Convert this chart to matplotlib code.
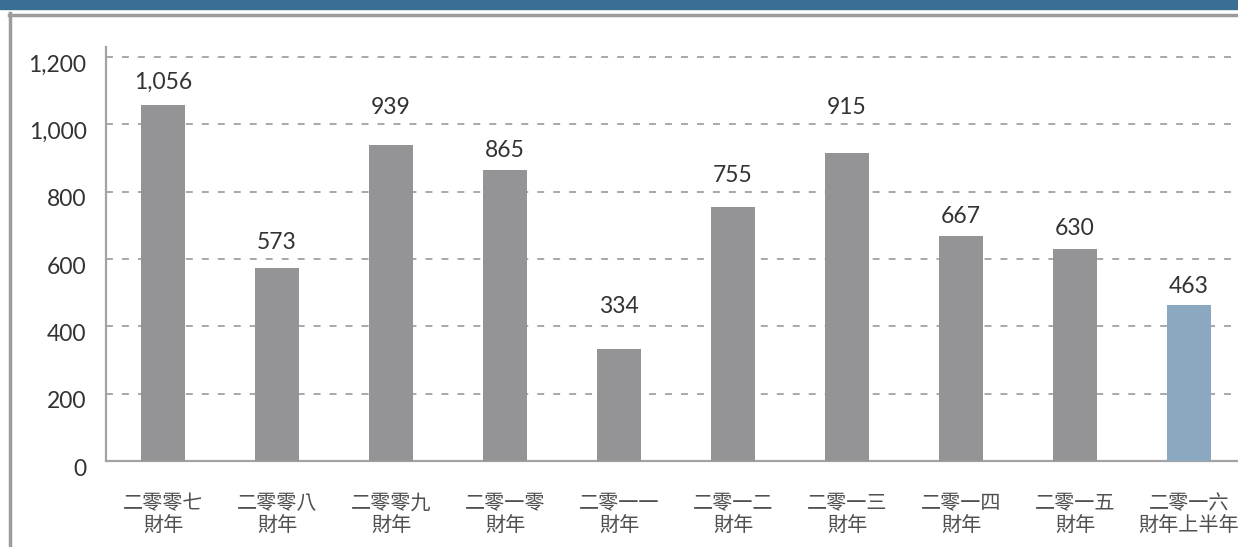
import matplotlib.pyplot as plt
from matplotlib.patches import Rectangle
from matplotlib.lines import Line2D
import matplotlib.transforms as mtransforms

years = ['二零零七\n財年', '二零零八\n財年', '二零零九\n財年', '二零一零\n財年', '二零一一\n財年',
         '二零一二\n財年', '二零一三\n財年', '二零一四\n財年', '二零一五\n財年', '二零一六\n財年上半年']
values = [1056, 573, 939, 865, 334, 755, 915, 667, 630, 463]
yticks = [0, 200, 400, 600, 800, 1000, 1200]

# gap between bar top and its label, in pixels (labels dodge the gridlines)
label_gap = [13, 15, 27, 9, 32, 21, 35, 9, 10, 8]

W, H = 1238, 547
fig = plt.figure(figsize=(W / 100, H / 100), dpi=100)
ax = fig.add_axes([106 / W, 1 - 461 / H, 1 - 106 / W, (461 - 47) / H])

num_font = ['Lato', 'DejaVu Sans']
cjk_font = ['Noto Sans CJK TC', 'DejaVu Sans']

colors = ['#949497'] * (len(values) - 1) + ['#8ba8c1']
x = list(range(len(values)))
ax.bar(x, values, width=0.386, color=colors, zorder=3)

ax.set_xlim(-0.5, (W - 163) / 114)
ax.set_ylim(0, (461 - 47) / ((461 - 57) / 1200))

ax.set_yticks(yticks)
ax.set_yticklabels([f'{v:,}' for v in yticks], family=num_font, fontsize=16.5,
                   color='#333333')
ax.tick_params(axis='y', length=0, pad=14)
off = mtransforms.ScaledTranslation(0, -6 / 100, fig.dpi_scale_trans)
for lab in ax.get_yticklabels():
    lab.set_transform(lab.get_transform() + off)

ax.set_xticks(x)
ax.set_xticklabels(years, family=cjk_font, fontsize=14.5, color='#505050',
                   fontweight='light', linespacing=1.05)
ax.tick_params(axis='x', length=0, pad=23)

plt.rcParams['lines.scale_dashes'] = False
for t in yticks[1:]:
    ax.axhline(t, color='#a8a8a8', linewidth=1.4, linestyle=(0, (5, 6.5)), zorder=1)

for s in ['top', 'right']:
    ax.spines[s].set_visible(False)
for s in ['left', 'bottom']:
    ax.spines[s].set_color('#a3a3a3')
    ax.spines[s].set_linewidth(1.6)

for xi, v, g in zip(x, values, label_gap):
    ax.annotate(f'{v:,}', (xi, v), xytext=(0, g * 0.72), textcoords='offset points',
                ha='center', va='bottom', family=num_font, fontsize=16.5,
                color='#333333')

# header band and frame
fig.patches.append(Rectangle((0, 1 - 9 / H), 1, 9 / H, transform=fig.transFigure,
                             color='#3a6e92', zorder=0))
fig.lines.append(Line2D([9 / W, 1], [1 - 14.5 / H] * 2, transform=fig.transFigure,
                        color='#9c9c9c', linewidth=2.5))
fig.lines.append(Line2D([9.5 / W] * 2, [0, 1 - 13 / H], transform=fig.transFigure,
                        color='#9c9c9c', linewidth=2.5))

fig.savefig('out.png', dpi=100)
